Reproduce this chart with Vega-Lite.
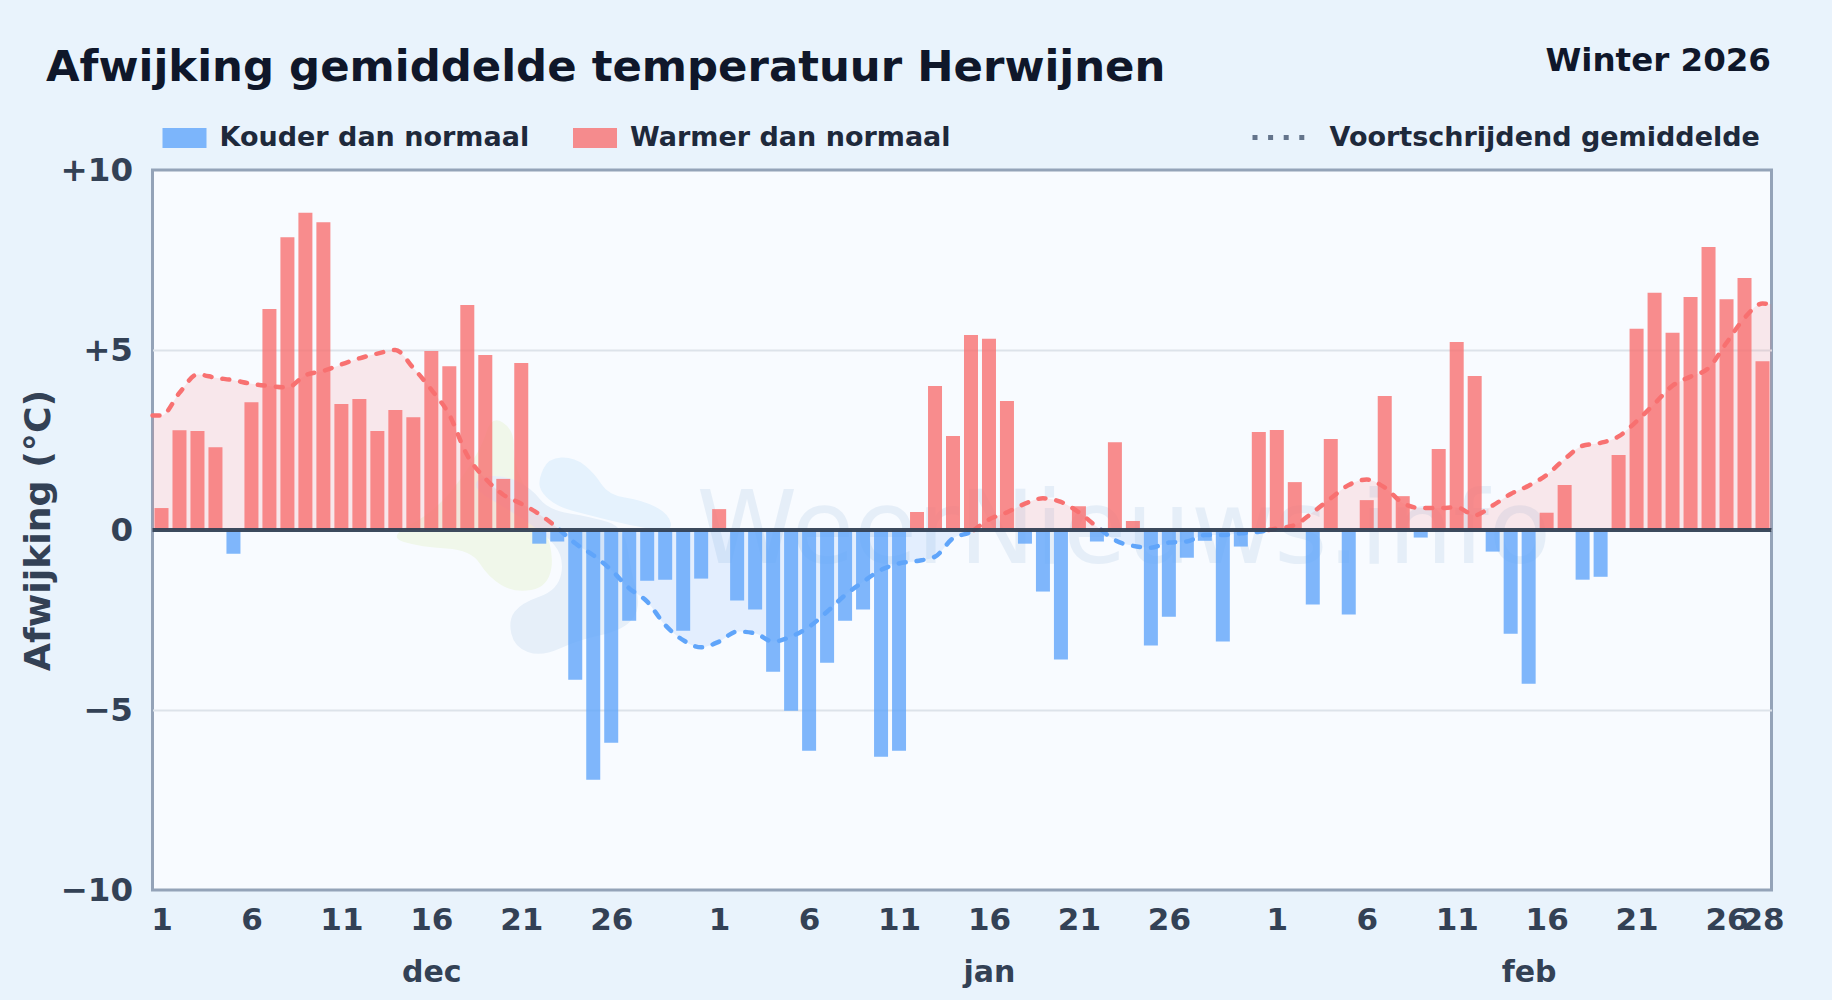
{"$schema":"https://vega.github.io/schema/vega-lite/v6.json","width":1619,"height":720,"autosize":{"type":"none"},"padding":{"left":152.5,"top":170,"right":60.5,"bottom":110},"background":"#e9f3fc","view":{"fill":"#f8fbff","stroke":"#94a3b8","strokeWidth":3},"config":{"font":"DejaVu Sans"},"title":{"text":"Afwijking gemiddelde temperatuur Herwijnen","anchor":"start","frame":"group","dx":-106.5,"offset":-46,"font":"DejaVu Sans","fontSize":43.4,"fontWeight":"bold","color":"#0f172a"},"datasets":{"bars":[{"date":"2025-12-01","afw":0.61,"kant":"Warmer dan normaal"},{"date":"2025-12-02","afw":2.77,"kant":"Warmer dan normaal"},{"date":"2025-12-03","afw":2.75,"kant":"Warmer dan normaal"},{"date":"2025-12-04","afw":2.3,"kant":"Warmer dan normaal"},{"date":"2025-12-05","afw":-0.66,"kant":"Kouder dan normaal"},{"date":"2025-12-06","afw":3.55,"kant":"Warmer dan normaal"},{"date":"2025-12-07","afw":6.14,"kant":"Warmer dan normaal"},{"date":"2025-12-08","afw":8.13,"kant":"Warmer dan normaal"},{"date":"2025-12-09","afw":8.81,"kant":"Warmer dan normaal"},{"date":"2025-12-10","afw":8.55,"kant":"Warmer dan normaal"},{"date":"2025-12-11","afw":3.5,"kant":"Warmer dan normaal"},{"date":"2025-12-12","afw":3.64,"kant":"Warmer dan normaal"},{"date":"2025-12-13","afw":2.75,"kant":"Warmer dan normaal"},{"date":"2025-12-14","afw":3.33,"kant":"Warmer dan normaal"},{"date":"2025-12-15","afw":3.13,"kant":"Warmer dan normaal"},{"date":"2025-12-16","afw":4.97,"kant":"Warmer dan normaal"},{"date":"2025-12-17","afw":4.55,"kant":"Warmer dan normaal"},{"date":"2025-12-18","afw":6.25,"kant":"Warmer dan normaal"},{"date":"2025-12-19","afw":4.86,"kant":"Warmer dan normaal"},{"date":"2025-12-20","afw":1.42,"kant":"Warmer dan normaal"},{"date":"2025-12-21","afw":4.64,"kant":"Warmer dan normaal"},{"date":"2025-12-22","afw":-0.38,"kant":"Kouder dan normaal"},{"date":"2025-12-23","afw":-0.32,"kant":"Kouder dan normaal"},{"date":"2025-12-24","afw":-4.16,"kant":"Kouder dan normaal"},{"date":"2025-12-25","afw":-6.94,"kant":"Kouder dan normaal"},{"date":"2025-12-26","afw":-5.91,"kant":"Kouder dan normaal"},{"date":"2025-12-27","afw":-2.52,"kant":"Kouder dan normaal"},{"date":"2025-12-28","afw":-1.41,"kant":"Kouder dan normaal"},{"date":"2025-12-29","afw":-1.38,"kant":"Kouder dan normaal"},{"date":"2025-12-30","afw":-2.8,"kant":"Kouder dan normaal"},{"date":"2025-12-31","afw":-1.35,"kant":"Kouder dan normaal"},{"date":"2026-01-01","afw":0.58,"kant":"Warmer dan normaal"},{"date":"2026-01-02","afw":-1.96,"kant":"Kouder dan normaal"},{"date":"2026-01-03","afw":-2.21,"kant":"Kouder dan normaal"},{"date":"2026-01-04","afw":-3.94,"kant":"Kouder dan normaal"},{"date":"2026-01-05","afw":-5.02,"kant":"Kouder dan normaal"},{"date":"2026-01-06","afw":-6.13,"kant":"Kouder dan normaal"},{"date":"2026-01-07","afw":-3.69,"kant":"Kouder dan normaal"},{"date":"2026-01-08","afw":-2.52,"kant":"Kouder dan normaal"},{"date":"2026-01-09","afw":-2.21,"kant":"Kouder dan normaal"},{"date":"2026-01-10","afw":-6.3,"kant":"Kouder dan normaal"},{"date":"2026-01-11","afw":-6.13,"kant":"Kouder dan normaal"},{"date":"2026-01-12","afw":0.5,"kant":"Warmer dan normaal"},{"date":"2026-01-13","afw":4.0,"kant":"Warmer dan normaal"},{"date":"2026-01-14","afw":2.61,"kant":"Warmer dan normaal"},{"date":"2026-01-15","afw":5.42,"kant":"Warmer dan normaal"},{"date":"2026-01-16","afw":5.31,"kant":"Warmer dan normaal"},{"date":"2026-01-17","afw":3.58,"kant":"Warmer dan normaal"},{"date":"2026-01-18","afw":-0.38,"kant":"Kouder dan normaal"},{"date":"2026-01-19","afw":-1.71,"kant":"Kouder dan normaal"},{"date":"2026-01-20","afw":-3.6,"kant":"Kouder dan normaal"},{"date":"2026-01-21","afw":0.66,"kant":"Warmer dan normaal"},{"date":"2026-01-22","afw":-0.32,"kant":"Kouder dan normaal"},{"date":"2026-01-23","afw":2.44,"kant":"Warmer dan normaal"},{"date":"2026-01-24","afw":0.25,"kant":"Warmer dan normaal"},{"date":"2026-01-25","afw":-3.21,"kant":"Kouder dan normaal"},{"date":"2026-01-26","afw":-2.41,"kant":"Kouder dan normaal"},{"date":"2026-01-27","afw":-0.77,"kant":"Kouder dan normaal"},{"date":"2026-01-28","afw":-0.3,"kant":"Kouder dan normaal"},{"date":"2026-01-29","afw":-3.1,"kant":"Kouder dan normaal"},{"date":"2026-01-30","afw":-0.46,"kant":"Kouder dan normaal"},{"date":"2026-01-31","afw":2.72,"kant":"Warmer dan normaal"},{"date":"2026-02-01","afw":2.78,"kant":"Warmer dan normaal"},{"date":"2026-02-02","afw":1.33,"kant":"Warmer dan normaal"},{"date":"2026-02-03","afw":-2.07,"kant":"Kouder dan normaal"},{"date":"2026-02-04","afw":2.53,"kant":"Warmer dan normaal"},{"date":"2026-02-05","afw":-2.35,"kant":"Kouder dan normaal"},{"date":"2026-02-06","afw":0.83,"kant":"Warmer dan normaal"},{"date":"2026-02-07","afw":3.72,"kant":"Warmer dan normaal"},{"date":"2026-02-08","afw":0.94,"kant":"Warmer dan normaal"},{"date":"2026-02-09","afw":-0.21,"kant":"Kouder dan normaal"},{"date":"2026-02-10","afw":2.25,"kant":"Warmer dan normaal"},{"date":"2026-02-11","afw":5.22,"kant":"Warmer dan normaal"},{"date":"2026-02-12","afw":4.28,"kant":"Warmer dan normaal"},{"date":"2026-02-13","afw":-0.6,"kant":"Kouder dan normaal"},{"date":"2026-02-14","afw":-2.88,"kant":"Kouder dan normaal"},{"date":"2026-02-15","afw":-4.27,"kant":"Kouder dan normaal"},{"date":"2026-02-16","afw":0.48,"kant":"Warmer dan normaal"},{"date":"2026-02-17","afw":1.25,"kant":"Warmer dan normaal"},{"date":"2026-02-18","afw":-1.38,"kant":"Kouder dan normaal"},{"date":"2026-02-19","afw":-1.3,"kant":"Kouder dan normaal"},{"date":"2026-02-20","afw":2.08,"kant":"Warmer dan normaal"},{"date":"2026-02-21","afw":5.59,"kant":"Warmer dan normaal"},{"date":"2026-02-22","afw":6.59,"kant":"Warmer dan normaal"},{"date":"2026-02-23","afw":5.48,"kant":"Warmer dan normaal"},{"date":"2026-02-24","afw":6.47,"kant":"Warmer dan normaal"},{"date":"2026-02-25","afw":7.86,"kant":"Warmer dan normaal"},{"date":"2026-02-26","afw":6.41,"kant":"Warmer dan normaal"},{"date":"2026-02-27","afw":7.0,"kant":"Warmer dan normaal"},{"date":"2026-02-28","afw":4.69,"kant":"Warmer dan normaal"}],"ma":[{"date":"2025-11-30T12:00:00Z","ma":3.18,"kant":"Warmer dan normaal","seg":1},{"date":"2025-12-01","ma":3.18,"kant":"Warmer dan normaal","seg":1},{"date":"2025-12-02","ma":3.81,"kant":"Warmer dan normaal","seg":1},{"date":"2025-12-03","ma":4.32,"kant":"Warmer dan normaal","seg":1},{"date":"2025-12-04","ma":4.23,"kant":"Warmer dan normaal","seg":1},{"date":"2025-12-05","ma":4.16,"kant":"Warmer dan normaal","seg":1},{"date":"2025-12-06","ma":4.06,"kant":"Warmer dan normaal","seg":1},{"date":"2025-12-07","ma":4.0,"kant":"Warmer dan normaal","seg":1},{"date":"2025-12-08","ma":3.96,"kant":"Warmer dan normaal","seg":1},{"date":"2025-12-09","ma":4.3,"kant":"Warmer dan normaal","seg":1},{"date":"2025-12-10","ma":4.42,"kant":"Warmer dan normaal","seg":1},{"date":"2025-12-11","ma":4.6,"kant":"Warmer dan normaal","seg":1},{"date":"2025-12-12","ma":4.77,"kant":"Warmer dan normaal","seg":1},{"date":"2025-12-13","ma":4.9,"kant":"Warmer dan normaal","seg":1},{"date":"2025-12-14","ma":5.0,"kant":"Warmer dan normaal","seg":1},{"date":"2025-12-15","ma":4.5,"kant":"Warmer dan normaal","seg":1},{"date":"2025-12-16","ma":3.9,"kant":"Warmer dan normaal","seg":1},{"date":"2025-12-17","ma":3.2,"kant":"Warmer dan normaal","seg":1},{"date":"2025-12-18","ma":2.07,"kant":"Warmer dan normaal","seg":1},{"date":"2025-12-19","ma":1.43,"kant":"Warmer dan normaal","seg":1},{"date":"2025-12-20","ma":0.98,"kant":"Warmer dan normaal","seg":1},{"date":"2025-12-21","ma":0.73,"kant":"Warmer dan normaal","seg":1},{"date":"2025-12-22","ma":0.44,"kant":"Warmer dan normaal","seg":1},{"date":"2025-12-23","ma":0.06,"kant":"Warmer dan normaal","seg":1},{"date":"2025-12-23T03:21:00Z","ma":0,"kant":"Warmer dan normaal","seg":1},{"date":"2025-12-23T03:21:00Z","ma":0,"kant":"Kouder dan normaal","seg":2},{"date":"2025-12-24","ma":-0.37,"kant":"Kouder dan normaal","seg":2},{"date":"2025-12-25","ma":-0.7,"kant":"Kouder dan normaal","seg":2},{"date":"2025-12-26","ma":-1.11,"kant":"Kouder dan normaal","seg":2},{"date":"2025-12-27","ma":-1.62,"kant":"Kouder dan normaal","seg":2},{"date":"2025-12-28","ma":-1.99,"kant":"Kouder dan normaal","seg":2},{"date":"2025-12-29","ma":-2.64,"kant":"Kouder dan normaal","seg":2},{"date":"2025-12-30","ma":-3.06,"kant":"Kouder dan normaal","seg":2},{"date":"2025-12-31","ma":-3.26,"kant":"Kouder dan normaal","seg":2},{"date":"2026-01-01","ma":-3.1,"kant":"Kouder dan normaal","seg":2},{"date":"2026-01-02","ma":-2.82,"kant":"Kouder dan normaal","seg":2},{"date":"2026-01-03","ma":-2.87,"kant":"Kouder dan normaal","seg":2},{"date":"2026-01-04","ma":-3.1,"kant":"Kouder dan normaal","seg":2},{"date":"2026-01-05","ma":-2.96,"kant":"Kouder dan normaal","seg":2},{"date":"2026-01-06","ma":-2.69,"kant":"Kouder dan normaal","seg":2},{"date":"2026-01-07","ma":-2.27,"kant":"Kouder dan normaal","seg":2},{"date":"2026-01-08","ma":-1.81,"kant":"Kouder dan normaal","seg":2},{"date":"2026-01-09","ma":-1.44,"kant":"Kouder dan normaal","seg":2},{"date":"2026-01-10","ma":-1.11,"kant":"Kouder dan normaal","seg":2},{"date":"2026-01-11","ma":-0.93,"kant":"Kouder dan normaal","seg":2},{"date":"2026-01-12","ma":-0.86,"kant":"Kouder dan normaal","seg":2},{"date":"2026-01-13","ma":-0.74,"kant":"Kouder dan normaal","seg":2},{"date":"2026-01-14","ma":-0.23,"kant":"Kouder dan normaal","seg":2},{"date":"2026-01-15","ma":-0.05,"kant":"Kouder dan normaal","seg":2},{"date":"2026-01-15T04:00:00Z","ma":0,"kant":"Kouder dan normaal","seg":2},{"date":"2026-01-15T04:00:00Z","ma":0,"kant":"Warmer dan normaal","seg":3},{"date":"2026-01-16","ma":0.29,"kant":"Warmer dan normaal","seg":3},{"date":"2026-01-17","ma":0.49,"kant":"Warmer dan normaal","seg":3},{"date":"2026-01-18","ma":0.73,"kant":"Warmer dan normaal","seg":3},{"date":"2026-01-19","ma":0.88,"kant":"Warmer dan normaal","seg":3},{"date":"2026-01-20","ma":0.78,"kant":"Warmer dan normaal","seg":3},{"date":"2026-01-21","ma":0.49,"kant":"Warmer dan normaal","seg":3},{"date":"2026-01-22","ma":0.09,"kant":"Warmer dan normaal","seg":3},{"date":"2026-01-22T06:00:00Z","ma":0,"kant":"Warmer dan normaal","seg":3},{"date":"2026-01-22T06:00:00Z","ma":0,"kant":"Kouder dan normaal","seg":4},{"date":"2026-01-23","ma":-0.28,"kant":"Kouder dan normaal","seg":4},{"date":"2026-01-24","ma":-0.44,"kant":"Kouder dan normaal","seg":4},{"date":"2026-01-25","ma":-0.49,"kant":"Kouder dan normaal","seg":4},{"date":"2026-01-26","ma":-0.35,"kant":"Kouder dan normaal","seg":4},{"date":"2026-01-27","ma":-0.32,"kant":"Kouder dan normaal","seg":4},{"date":"2026-01-28","ma":-0.14,"kant":"Kouder dan normaal","seg":4},{"date":"2026-01-29","ma":-0.14,"kant":"Kouder dan normaal","seg":4},{"date":"2026-01-30","ma":-0.09,"kant":"Kouder dan normaal","seg":4},{"date":"2026-01-31","ma":-0.05,"kant":"Kouder dan normaal","seg":4},{"date":"2026-01-31T13:00:00Z","ma":0,"kant":"Kouder dan normaal","seg":4},{"date":"2026-01-31T13:00:00Z","ma":0,"kant":"Warmer dan normaal","seg":5},{"date":"2026-02-01","ma":0.04,"kant":"Warmer dan normaal","seg":5},{"date":"2026-02-02","ma":0.14,"kant":"Warmer dan normaal","seg":5},{"date":"2026-02-03","ma":0.49,"kant":"Warmer dan normaal","seg":5},{"date":"2026-02-04","ma":0.88,"kant":"Warmer dan normaal","seg":5},{"date":"2026-02-05","ma":1.25,"kant":"Warmer dan normaal","seg":5},{"date":"2026-02-06","ma":1.4,"kant":"Warmer dan normaal","seg":5},{"date":"2026-02-07","ma":1.18,"kant":"Warmer dan normaal","seg":5},{"date":"2026-02-08","ma":0.75,"kant":"Warmer dan normaal","seg":5},{"date":"2026-02-09","ma":0.61,"kant":"Warmer dan normaal","seg":5},{"date":"2026-02-10","ma":0.61,"kant":"Warmer dan normaal","seg":5},{"date":"2026-02-11","ma":0.63,"kant":"Warmer dan normaal","seg":5},{"date":"2026-02-12","ma":0.41,"kant":"Warmer dan normaal","seg":5},{"date":"2026-02-13","ma":0.68,"kant":"Warmer dan normaal","seg":5},{"date":"2026-02-14","ma":1.0,"kant":"Warmer dan normaal","seg":5},{"date":"2026-02-15","ma":1.23,"kant":"Warmer dan normaal","seg":5},{"date":"2026-02-16","ma":1.53,"kant":"Warmer dan normaal","seg":5},{"date":"2026-02-17","ma":1.97,"kant":"Warmer dan normaal","seg":5},{"date":"2026-02-18","ma":2.34,"kant":"Warmer dan normaal","seg":5},{"date":"2026-02-19","ma":2.42,"kant":"Warmer dan normaal","seg":5},{"date":"2026-02-20","ma":2.6,"kant":"Warmer dan normaal","seg":5},{"date":"2026-02-21","ma":3.02,"kant":"Warmer dan normaal","seg":5},{"date":"2026-02-22","ma":3.51,"kant":"Warmer dan normaal","seg":5},{"date":"2026-02-23","ma":4.01,"kant":"Warmer dan normaal","seg":5},{"date":"2026-02-24","ma":4.26,"kant":"Warmer dan normaal","seg":5},{"date":"2026-02-25","ma":4.5,"kant":"Warmer dan normaal","seg":5},{"date":"2026-02-26","ma":5.2,"kant":"Warmer dan normaal","seg":5},{"date":"2026-02-27","ma":5.89,"kant":"Warmer dan normaal","seg":5},{"date":"2026-02-28","ma":6.29,"kant":"Warmer dan normaal","seg":5},{"date":"2026-02-28T12:00:00Z","ma":6.27,"kant":"Warmer dan normaal","seg":5}]},"layer":[{"data":{"values":[{"date":"2025-12-21","v":-0.556}]},"mark":{"type":"point","filled":true,"size":4,"opacity":1,"color":"#f0f7ea","shape":"M-117.5,-8Q-135,-13,-109,-26.5Q-83,-40,-61.5,-70Q-40,-100,-35,-117.5Q-30,-135,-18.5,-127.5Q-7,-120,-7.5,-103.5Q-8,-87,1,-68.5Q10,-50,21.5,-25Q33,0,30,18.5Q27,37,10,40Q-7,43,-20,35Q-33,27,-41.5,13.5Q-50,0,-75,-1.5Q-100,-3,-117.5,-8Z"},"encoding":{"x":{"field":"date","type":"temporal","axis":null,"scale":{"type":"utc","nice":false,"padding":0,"domain":["2025-11-30T12:00:00Z","2026-02-28T12:00:00Z"]}},"y":{"field":"v","type":"quantitative","scale":{"domain":[-10,10],"nice":false},"axis":{"values":[-10,-5,0,5,10],"orient":"left","title":"Afwijking (°C)","titleFont":"DejaVu Sans","titleFontWeight":"bold","titleFontSize":36.3,"titleColor":"#334155","titleX":-95,"titleY":360,"grid":true,"gridColor":"#dde3ea","gridWidth":2,"gridOpacity":{"condition":{"test":"abs(datum.value)==10","value":0},"value":1},"domain":false,"ticks":false,"labelFont":"DejaVu Sans","labelFontWeight":"bold","labelFontSize":32.5,"labelColor":"#334155","labelPadding":20,"labelExpr":"datum.value>0?'+'+datum.label:datum.label"}}}},{"data":{"values":[{"date":"2025-12-21","v":-0.556}]},"mark":{"type":"point","filled":true,"size":4,"opacity":1,"color":"#e6eff9","shape":"M-30,-74Q-17,-75,-3.5,-68.5Q10,-62,18.5,-51Q27,-40,48.5,-36.5Q70,-33,86.5,-28Q103,-23,106.5,0Q110,23,115,40Q120,57,111.5,68.5Q103,80,80,85Q57,90,38.5,98.5Q20,107,6.5,102Q-7,97,-10,83.5Q-13,70,-6.5,61.5Q0,53,18.5,46.5Q37,40,40,23.5Q43,7,33,-5Q23,-17,3,-30Q-17,-43,-32,-51.5Q-47,-60,-45,-66.5Q-43,-73,-30,-74Z"},"encoding":{"x":{"field":"date","type":"temporal","axis":null},"y":{"field":"v","type":"quantitative"}}},{"data":{"values":[{"date":"2025-12-21","v":-0.556}]},"mark":{"type":"point","filled":true,"size":4,"opacity":1,"color":"#e5f2fd","shape":"M18.5,-63.5Q17,-70,22,-81Q27,-92,40,-92.5Q53,-93,63,-85Q73,-77,80,-66Q87,-55,103.5,-52.5Q120,-50,133.5,-43.5Q147,-37,149.5,-27Q152,-17,129.5,-21Q107,-25,87,-30Q67,-35,52,-39Q37,-43,28.5,-50Q20,-57,18.5,-63.5Z"},"encoding":{"x":{"field":"date","type":"temporal","axis":null},"y":{"field":"v","type":"quantitative"}}},{"data":{"values":[{"date":"2026-01-23T12:00:00Z","v":-0.92,"tekst":"WeerNieuws.info"}]},"mark":{"type":"text","font":"DejaVu Sans","fontWeight":"normal","fontSize":102,"align":"center","baseline":"alphabetic","color":"#7fa8d4","opacity":0.15},"encoding":{"x":{"field":"date","type":"temporal","axis":null},"y":{"field":"v","type":"quantitative"},"text":{"field":"tekst"}}},{"data":{"name":"ma"},"mark":{"type":"area","interpolate":"monotone","opacity":0.14},"encoding":{"x":{"field":"date","type":"temporal","axis":null},"y":{"field":"ma","type":"quantitative"},"color":{"field":"kant","type":"nominal","scale":{"domain":["Kouder dan normaal","Warmer dan normaal"],"range":["#60a5fa","#f87171"]},"legend":{"title":null,"orient":"none","legendX":10,"legendY":-54,"direction":"horizontal","symbolType":"M-1,-0.45H1V0.45H-1Z","symbolSize":1936,"symbolOpacity":0.8,"symbolStrokeWidth":0,"labelFont":"DejaVu Sans","labelFontWeight":"bold","labelFontSize":27,"labelColor":"#1e293b","labelOffset":13,"labelLimit":600,"columnPadding":43.5,"encode":{"symbols":{"update":{"opacity":{"value":0.8}}}}}},"detail":{"field":"seg"}}},{"data":{"name":"ma"},"mark":{"type":"line","interpolate":"monotone","strokeWidth":4.5,"strokeCap":"round","strokeDash":[7,11]},"encoding":{"x":{"field":"date","type":"temporal","axis":null},"y":{"field":"ma","type":"quantitative"},"color":{"field":"kant","type":"nominal"},"detail":{"field":"seg"}}},{"data":{"values":[{"date":"2026-02-28T12:00:00Z","v":12,"reeks":"Voortschrijdend gemiddelde"}]},"mark":{"type":"line","clip":true},"encoding":{"x":{"field":"date","type":"temporal","axis":null},"y":{"field":"v","type":"quantitative"},"strokeDash":{"field":"reeks","type":"nominal","scale":{"domain":["Voortschrijdend gemiddelde"],"range":[[5,10.6]]},"legend":{"title":null,"orient":"none","legendX":1097.5,"legendY":-62,"symbolType":"stroke","symbolSize":2916,"symbolStrokeWidth":5,"symbolStrokeColor":"#64748b","labelFont":"DejaVu Sans","labelFontWeight":"bold","labelFontSize":27,"labelColor":"#1e293b","labelOffset":20.5,"labelLimit":600,"encode":{"symbols":{"update":{"stroke":{"value":"#64748b"},"strokeWidth":{"value":5}}}}}}}},{"data":{"name":"bars"},"mark":{"type":"bar","width":14,"opacity":0.8},"encoding":{"x":{"field":"date","type":"temporal","axis":{"orient":"bottom","values":["2025-12-01","2025-12-06","2025-12-11","2025-12-16","2025-12-21","2025-12-26","2026-01-01","2026-01-06","2026-01-11","2026-01-16","2026-01-21","2026-01-26","2026-02-01","2026-02-06","2026-02-11","2026-02-16","2026-02-21","2026-02-26","2026-02-28"],"format":"%-d","title":null,"grid":false,"domain":false,"ticks":false,"labelFont":"DejaVu Sans","labelFontWeight":"bold","labelFontSize":31,"labelColor":"#334155","labelPadding":15,"labelOverlap":false,"labelBound":false,"labelFlush":false}},"y":{"field":"afw","type":"quantitative"},"color":{"field":"kant","type":"nominal"}}},{"data":{"values":[{"nul":0}]},"mark":{"type":"rule","color":"#334155","strokeWidth":4,"opacity":0.95},"encoding":{"y":{"field":"nul","type":"quantitative"}}},{"data":{"values":[{"date":"2025-12-16","v":0},{"date":"2026-01-16","v":0},{"date":"2026-02-15","v":0}]},"mark":{"type":"point","opacity":0},"encoding":{"x":{"field":"date","type":"temporal","axis":{"orient":"bottom","values":["2025-12-16","2026-01-16","2026-02-15"],"format":"%b","labelExpr":"lower(datum.label)","title":null,"grid":false,"domain":false,"ticks":false,"labelFont":"DejaVu Sans","labelFontWeight":"bold","labelFontSize":30,"labelColor":"#334155","labelPadding":67,"labelOverlap":false,"labelBound":false}},"y":{"field":"v","type":"quantitative"}}},{"data":{"values":[{"date":"2026-02-28","v":0}]},"mark":{"type":"point","opacity":0},"encoding":{"x":{"field":"date","type":"temporal","axis":{"orient":"top","labels":false,"grid":false,"domain":false,"ticks":false,"title":"Winter 2026","titleFont":"DejaVu Sans","titleFontWeight":"bold","titleFontSize":32.5,"titleColor":"#0f172a","titleAlign":"right","titleBaseline":"alphabetic","titleX":1618,"titleY":-100}},"y":{"field":"v","type":"quantitative"}}}],"resolve":{"axis":{"x":"independent"}}}
